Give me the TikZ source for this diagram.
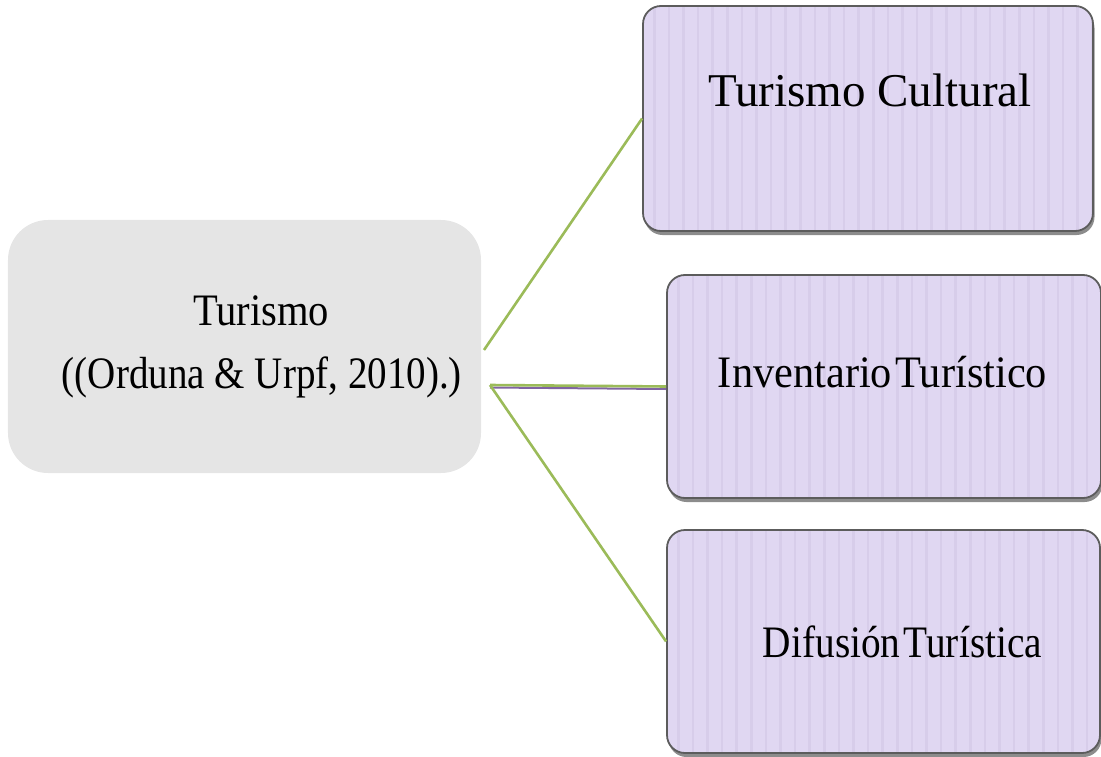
\documentclass[tikz,border=0pt]{standalone}
\usepackage{fontspec}
\setmainfont{Liberation Serif}
\usetikzlibrary{shadows}
\definecolor{lav}{HTML}{E0D7F2}
\definecolor{lavstripe}{HTML}{D7CDEA}
\definecolor{boxedge}{HTML}{5C5C5C}
\definecolor{leftgray}{HTML}{E5E5E5}
\definecolor{lgreen}{HTML}{9BBB59}
\definecolor{lpurple}{HTML}{8064A2}
\newcommand{\sqz}[2]{\resizebox{#1}{\height}{#2}}
\tikzset{
  purplebox/.style={draw=boxedge, line width=1.8bp, fill=lav, rounded corners=18bp,
    minimum width=#1, inner sep=0pt,
    drop shadow={shadow xshift=1.5bp, shadow yshift=-4bp, opacity=0.6, fill=black!75},
    path picture={
      \foreach \i in {0,...,31}
        \fill[lavstripe, sharp corners] ([xshift=\i*14.6bp+10bp]path picture bounding box.south west) rectangle ++(2.6bp,300bp);
    }},
  graybox/.style={fill=leftgray, rounded corners=40bp, inner sep=0pt},
  conn/.style={draw=lgreen, line width=2.6bp},
  txt/.style={anchor=base, inner sep=0pt, font=\fontsize{45bp}{54bp}\selectfont}
}
\begin{document}
\begin{tikzpicture}[x=1bp,y=-1bp]
\useasboundingbox (0,0) rectangle (1101,757);
% left box
\node[graybox, minimum width=473bp, minimum height=253bp] (root) at (244.5,346.5) {};
\node[txt] (rt1) at (261,325) {\sqz{136bp}{Turismo}};
\node[txt] (rt2) at (262,388) {\sqz{400bp}{((Orduna \& Urpf, 2010).)}};
% right boxes
\node[purplebox=450bp, minimum height=225bp] (b1) at (868,118.5) {};
\node[purplebox=434bp, minimum height=223bp] (b2) at (884,386.5) {};
\node[purplebox=433bp, minimum height=223bp] (b3) at (883.5,641.5) {};
\node[txt, font=\fontsize{47bp}{56bp}\selectfont] (t1) at (870,107) {Turismo Cultural};
\node[txt] (t2) at (882.5,387) {\sqz{329bp}{Inventario\kern0.08em Turístico}};
\node[txt] (t3) at (902.5,657) {\sqz{279bp}{Difusión\kern0.08em Turística}};
% connectors
\coordinate (s1) at (484,350);
\coordinate (s2) at (490,385);
\draw[conn] (s1) -- (b1.west);
\draw[draw=lpurple, line width=2bp] ([yshift=-2.5bp]s2) -- ([yshift=-2.5bp]b2.west);
\draw[conn] (s2) -- (b2.west);
\draw[conn] (s2) -- (b3.west);
\end{tikzpicture}
\end{document}
